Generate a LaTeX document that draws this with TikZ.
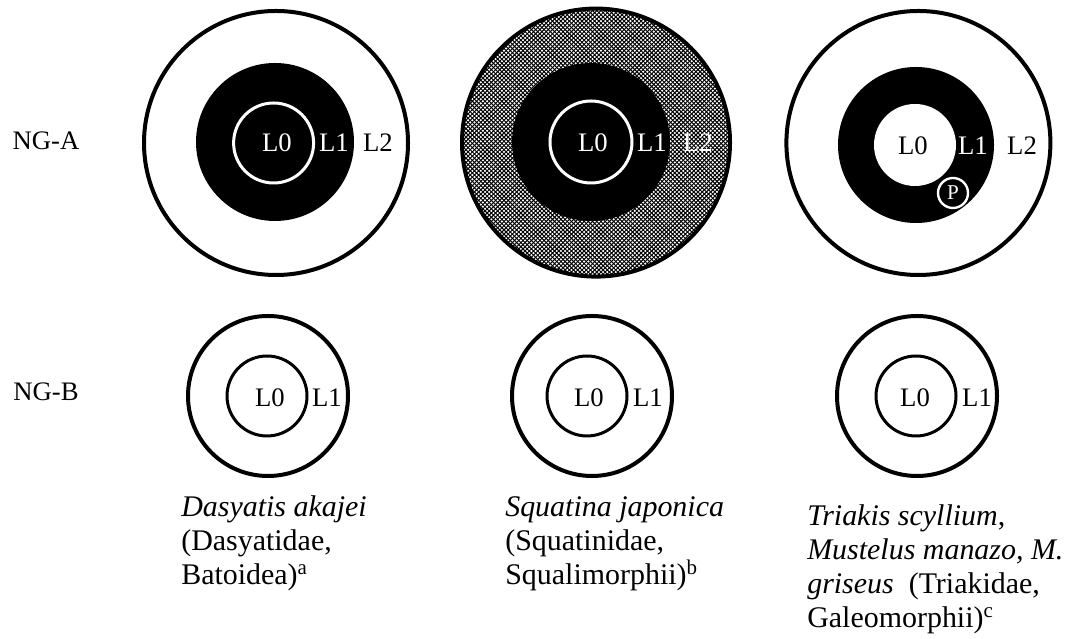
\documentclass[tikz,border=0pt]{standalone}
\usepackage{fontspec}
\setmainfont{Liberation Serif}
\usetikzlibrary{patterns}

\pgfdeclarepatternformonly{ringdots}{\pgfqpoint{-1pt}{-1pt}}{\pgfqpoint{4pt}{4pt}}{\pgfqpoint{3pt}{3pt}}{%
\pgfpathcircle{\pgfqpoint{0pt}{0pt}}{0.85pt}%
\pgfpathcircle{\pgfqpoint{1.5pt}{1.5pt}}{0.85pt}%
\pgfusepath{fill}}

\begin{document}
\begin{tikzpicture}[lbl/.style={font=\fontsize{19}{23}\selectfont,inner sep=0pt},
capt/.style={font=\fontsize{21.3}{24.2}\selectfont,align=left,anchor=base west,inner sep=0pt}]
\useasboundingbox (0,0) rectangle (26.65,15.975);

\node[lbl] (nga) at (1.15,12.45) {NG-A};
\node[lbl] (ngb) at (1.15,6.175) {NG-B};

% NG-A row
\draw[fill=white,line width=0.1cm] (6.9,12.4) circle (3.3);
\fill[black] (6.875,12.425) circle (1.975);
\draw[white,line width=0.075cm] (6.84,12.4) circle (1.0);
\node[lbl,text=white] (a0) at (6.925,12.4) {L0};
\node[lbl,text=white] (a1) at (8.35,12.4) {L1};
\node[lbl] (a2) at (9.45,12.4) {L2};

\fill[black] (14.9,12.41) circle (3.35);
\fill[pattern=ringdots,pattern color=white] (14.9,12.41) circle (3.35);
\draw[line width=0.1cm] (14.9,12.41) circle (3.35);
\fill[black] (14.775,12.425) circle (1.975);
\draw[white,line width=0.075cm] (14.775,12.425) circle (1.025);
\node[lbl,text=white] (b0) at (14.825,12.4) {L0};
\node[lbl,text=white] (b1) at (16.3,12.4) {L1};
\node[lbl,text=white] (b2) at (17.45,12.4) {L2};

\draw[fill=white,line width=0.1cm] (22.96,12.4) circle (3.3);
\fill[black] (22.9,12.35) circle (1.95);
\fill[white] (22.875,12.35) circle (1.025);
\node[lbl] (c0) at (22.825,12.325) {L0};
\node[lbl,text=white] (c1) at (24.325,12.325) {L1};
\node[lbl] (c2) at (25.55,12.325) {L2};
\node[circle,draw=white,fill=black,line width=0.06cm,minimum size=0.75cm,inner sep=0pt,text=white,font=\fontsize{15}{17}\selectfont] (p) at (23.825,11.15) {P};

% NG-B row
\draw[line width=0.1cm] (6.7,6.075) circle (2.0);
\draw[line width=0.075cm] (6.675,6.075) circle (1.0);
\node[lbl] (d0) at (6.75,6.025) {L0};
\node[lbl] (d1) at (8.175,6.025) {L1};

\draw[line width=0.1cm] (14.8,6.075) circle (2.0);
\draw[line width=0.075cm] (14.675,6.075) circle (1.0);
\node[lbl] (e0) at (14.725,6.025) {L0};
\node[lbl] (e1) at (16.2,6.025) {L1};

\draw[line width=0.1cm] (22.925,6.075) circle (2.0);
\draw[line width=0.075cm] (22.9,6.075) circle (1.0);
\node[lbl] (f0) at (22.875,6.025) {L0};
\node[lbl] (f1) at (24.425,6.025) {L1};

\node[capt] (sp1) at (4.525,1.35) {\textit{Dasyatis akajei}\\(Dasyatidae,\\Batoidea)\textsuperscript{a}};
\node[capt] (sp2) at (12.625,1.35) {\textit{Squatina japonica}\\(Squatinidae,\\Squalimorphii)\textsuperscript{b}};
\node[capt] (sp3) at (20.175,0.275) {\textit{Triakis scyllium},\\\textit{Mustelus manazo, M.}\\\textit{griseus}\ \ (Triakidae,\\Galeomorphii)\textsuperscript{c}};

\end{tikzpicture}
\end{document}
